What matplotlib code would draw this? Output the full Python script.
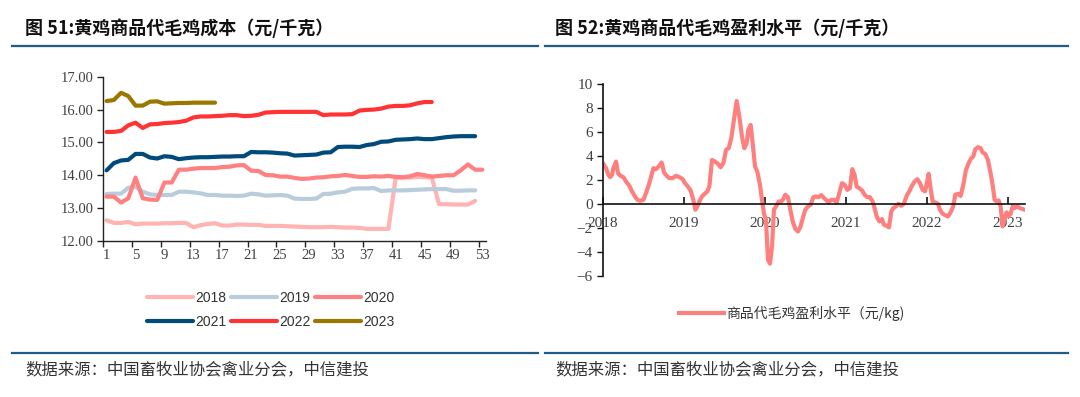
import matplotlib.pyplot as plt
import numpy as np
from matplotlib.lines import Line2D

plt.rcParams['font.family'] = ['Noto Sans CJK SC', 'DejaVu Sans']
plt.rcParams['axes.unicode_minus'] = True

# ---------------- data: chart 51 (weekly cost, yuan/kg) ----------------
cost_2018 = [12.63, 12.55, 12.55, 12.58, 12.51, 12.53, 12.53, 12.53, 12.54, 12.54,
             12.55, 12.55, 12.42, 12.48, 12.52, 12.54, 12.47, 12.47, 12.50, 12.50,
             12.49, 12.49, 12.46, 12.46, 12.46, 12.45, 12.44, 12.43, 12.42, 12.42,
             12.42, 12.43, 12.42, 12.41, 12.41, 12.40, 12.37, 12.37, 12.37, 12.37,
             13.92, 13.93, 13.93, 13.95, 13.94, 13.93, 13.12, 13.12, 13.11, 13.11,
             13.11, 13.22]
cost_2019 = [13.43, 13.44, 13.44, 13.62, 13.65, 13.50, 13.42, 13.40, 13.40, 13.40,
             13.50, 13.50, 13.48, 13.45, 13.40, 13.40, 13.38, 13.38, 13.37, 13.38,
             13.44, 13.42, 13.38, 13.39, 13.40, 13.38, 13.29, 13.28, 13.28, 13.29,
             13.43, 13.44, 13.48, 13.50, 13.59, 13.60, 13.60, 13.61, 13.52, 13.54,
             13.54, 13.54, 13.55, 13.56, 13.57, 13.58, 13.58, 13.58, 13.53, 13.53,
             13.54, 13.54]
cost_2020 = [13.35, 13.35, 13.17, 13.30, 13.93, 13.30, 13.26, 13.25, 13.78, 13.78,
             14.17, 14.17, 14.20, 14.22, 14.22, 14.22, 14.25, 14.26, 14.30, 14.31,
             14.14, 14.13, 14.01, 14.00, 13.96, 13.96, 13.92, 13.89, 13.90, 13.93,
             13.94, 13.97, 13.98, 14.01, 13.98, 13.95, 13.95, 13.97, 13.96, 13.98,
             13.95, 13.94, 13.97, 14.04, 14.00, 13.96, 13.98, 14.00, 14.00, 14.15,
             14.33, 14.17, 14.17]
cost_2021 = [14.15, 14.37, 14.45, 14.47, 14.65, 14.65, 14.54, 14.51, 14.58, 14.56,
             14.49, 14.52, 14.54, 14.55, 14.55, 14.56, 14.57, 14.57, 14.58, 14.58,
             14.71, 14.70, 14.70, 14.69, 14.67, 14.66, 14.60, 14.61, 14.62, 14.63,
             14.69, 14.70, 14.86, 14.87, 14.87, 14.86, 14.92, 14.95, 15.02, 15.03,
             15.08, 15.09, 15.10, 15.12, 15.10, 15.10, 15.13, 15.16, 15.18, 15.19,
             15.19, 15.19]
cost_2022 = [15.32, 15.32, 15.35, 15.52, 15.60, 15.44, 15.55, 15.56, 15.59, 15.60,
             15.62, 15.66, 15.76, 15.79, 15.79, 15.80, 15.81, 15.83, 15.83, 15.80,
             15.81, 15.84, 15.91, 15.92, 15.93, 15.93, 15.93, 15.93, 15.93, 15.93,
             15.83, 15.85, 15.85, 15.85, 15.86, 15.97, 15.99, 16.00, 16.03, 16.09,
             16.11, 16.11, 16.13, 16.19, 16.23, 16.23]
cost_2023 = [16.26, 16.29, 16.51, 16.41, 16.12, 16.12, 16.24, 16.25, 16.18, 16.19,
             16.20, 16.20, 16.21, 16.21, 16.21, 16.21]

years = ['2018', '2019', '2020', '2021', '2022', '2023']
cost_series = [cost_2018, cost_2019, cost_2020, cost_2021, cost_2022, cost_2023]
colors = ['#FFB3B3', '#B8CCDB', '#FF8080', '#004A7C', '#FF3333', '#9C7700']

week_labels = list(range(1, 54, 4))

# ---------------- data: chart 52 (profit, yuan/kg) ----------------
profit_t = [2018.008, 2018.041, 2018.070, 2018.091, 2018.115, 2018.132, 2018.165, 2018.189,
            2018.214, 2018.255, 2018.288, 2018.329, 2018.362, 2018.399, 2018.428, 2018.461,
            2018.502, 2018.535, 2018.576, 2018.626, 2018.658, 2018.691, 2018.728, 2018.757,
            2018.790, 2018.823, 2018.864, 2018.905, 2018.947, 2018.988, 2019.016, 2019.045,
            2019.086, 2019.119, 2019.144, 2019.169, 2019.193, 2019.226, 2019.259, 2019.292,
            2019.317, 2019.350, 2019.383, 2019.416, 2019.457, 2019.490, 2019.523, 2019.556,
            2019.588, 2019.621, 2019.654, 2019.687, 2019.720, 2019.749, 2019.778, 2019.798,
            2019.827, 2019.852, 2019.881, 2019.909, 2019.942, 2019.967, 2019.992, 2020.016,
            2020.041, 2020.066, 2020.091, 2020.115, 2020.140, 2020.173, 2020.206, 2020.230,
            2020.255, 2020.288, 2020.321, 2020.346, 2020.379, 2020.412, 2020.444, 2020.477,
            2020.502, 2020.535, 2020.568, 2020.601, 2020.634, 2020.667, 2020.700, 2020.733,
            2020.765, 2020.790, 2020.823, 2020.856, 2020.889, 2020.922, 2020.955, 2020.988,
            2021.021, 2021.053, 2021.082, 2021.111, 2021.136, 2021.169, 2021.202, 2021.235,
            2021.267, 2021.300, 2021.333, 2021.358, 2021.383, 2021.416, 2021.449, 2021.473,
            2021.506, 2021.535, 2021.564, 2021.588, 2021.621, 2021.654, 2021.687, 2021.720,
            2021.753, 2021.786, 2021.819, 2021.852, 2021.885, 2021.918, 2021.951, 2021.979,
            2022.000, 2022.025, 2022.049, 2022.074, 2022.107, 2022.140, 2022.165, 2022.198,
            2022.230, 2022.263, 2022.296, 2022.329, 2022.354, 2022.387, 2022.420, 2022.453,
            2022.486, 2022.519, 2022.551, 2022.576, 2022.601, 2022.634, 2022.667, 2022.691,
            2022.724, 2022.757, 2022.790, 2022.815, 2022.840, 2022.864, 2022.889, 2022.914,
            2022.938, 2022.963, 2022.988, 2023.012, 2023.037, 2023.062, 2023.086, 2023.119,
            2023.152, 2023.185, 2023.214]
profit_v = [3.36, 3.00, 2.44, 2.25, 2.44, 3.00, 3.55, 2.58,
            2.39, 2.25, 1.89, 1.53, 1.06, 0.64, 0.36, 0.28,
            0.36, 0.92, 1.75, 3.00, 2.92, 3.14, 3.47, 2.64,
            2.36, 2.17, 2.17, 2.36, 2.25, 2.08, 1.75, 1.53,
            1.14, 0.36, -0.47, -0.19, 0.22, 0.64, 0.86, 1.06,
            1.47, 3.69, 3.56, 3.42, 3.08, 3.42, 4.53, 4.67,
            5.50, 7.03, 8.61, 7.31, 5.64, 4.67, 5.08, 6.19,
            6.61, 5.08, 3.14, 2.72, 1.61, 0.36, -0.81, -1.31,
            -4.64, -4.97, -3.53, -0.47, -0.19, 0.22, 0.22, 0.42,
            0.78, 0.58, -0.61, -1.44, -2.08, -2.28, -1.86, -1.03,
            -0.47, -0.19, -0.06, 0.58, 0.64, 0.58, 0.75, 0.50,
            0.31, 0.14, 0.36, 0.36, 0.14, 0.92, 1.75, 1.61,
            1.19, 1.33, 2.92, 2.44, 1.47, 1.33, 1.14, 0.78,
            0.58, 0.58, 0.22, -0.33, -1.03, -1.44, -1.25, -1.72,
            -1.81, -1.94, -0.61, -0.33, -0.19, 0.03, -0.14, 0.03,
            0.69, 1.06, 1.53, 1.89, 2.08, 1.75, 1.19, 1.06,
            1.61, 2.53, 1.33, 0.22, 0.14, 0.03, -0.47, -0.81,
            -0.92, -1.03, -0.69, -0.19, 0.78, 0.86, 0.69, 1.61,
            2.86, 3.42, 3.83, 3.97, 4.58, 4.75, 4.67, 4.31,
            4.19, 3.69, 2.58, 1.61, 0.36, 0.22, 0.31, -0.19,
            -1.86, -1.31, -0.69, -1.03, -0.81, -0.19, -0.33, -0.19,
            -0.33, -0.42, -0.47]
year_ticks = [2018, 2019, 2020, 2021, 2022, 2023]

W, H = 1080, 397
fig = plt.figure(figsize=(W / 100, H / 100), dpi=100)

serif = 'Liberation Serif'
tick_col = '#404040'
rule_col = '#1F5C8A'


def fx(px):
    return px / W


def fy(py):
    return 1 - py / H


# titles, rules and sources
fig.text(fx(25), fy(28), '图 51:黄鸡商品代毛鸡成本（元/千克）', fontsize=13,
         weight='bold', va='center', ha='left', color='#111111')
fig.text(fx(555), fy(28), '图 52:黄鸡商品代毛鸡盈利水平（元/千克）', fontsize=13,
         weight='bold', va='center', ha='left', color='#111111')
for x0, x1 in [(12, 538), (545, 1068)]:
    for yy in (46, 352.5):
        fig.add_artist(Line2D([fx(x0), fx(x1)], [fy(yy), fy(yy)], color=rule_col, lw=1.6))
for x0 in (25, 555):
    fig.text(fx(x0), fy(370), '数据来源：中国畜牧业协会禽业分会，中信建投', fontsize=11.8,
             style='italic', va='center', ha='left', color='#333333')

# ---------------- left chart ----------------
ax1 = fig.add_axes([fx(103), fy(241), fx(486) - fx(103), fy(76.7) - fy(241)])
handles = []
for yr, vals, c in zip(years, cost_series, colors):
    wk = np.arange(1, len(vals) + 1)
    h, = ax1.plot(wk, vals, color=c, lw=3, solid_capstyle='round', label=yr)
    handles.append(h)

ax1.set_xlim(0.5, 53.5)
ax1.set_ylim(12, 17)
ax1.set_yticks(np.arange(12, 17.01, 1))
ax1.set_yticklabels([f'{v:.2f}' for v in np.arange(12, 17.01, 1)])
ax1.set_xticks([w - 0.5 for w in week_labels])
ax1.set_xticklabels([])
ax1.set_xticks(week_labels, minor=True)
ax1.set_xticklabels([str(w) for w in week_labels], minor=True)
ax1.tick_params(axis='x', which='major', length=4, width=1, color='#222222', direction='out')
ax1.tick_params(axis='x', which='minor', length=0, pad=6)
ax1.tick_params(axis='y', length=4, width=1, color='#222222', direction='out', pad=3)
for lab in ax1.get_xticklabels(minor=True) + ax1.get_yticklabels():
    lab.set_fontfamily(serif)
    lab.set_fontsize(10.5)
    lab.set_color(tick_col)
for s in ('top', 'right'):
    ax1.spines[s].set_visible(False)
for s in ('left', 'bottom'):
    ax1.spines[s].set_color('#222222')
    ax1.spines[s].set_linewidth(1)

order = [0, 3, 1, 4, 2, 5]
fig.legend([handles[i] for i in order], [years[i] for i in order], ncol=3,
           loc='center', bbox_to_anchor=(fx(271), fy(309.5)), frameon=False,
           prop={'family': 'Liberation Sans', 'size': 10}, handlelength=3.3,
           handletextpad=0.15, columnspacing=0.35, labelspacing=0.72,
           labelcolor='#333333')

# ---------------- right chart ----------------
ax2 = fig.add_axes([fx(602.7), fy(276), fx(1025) - fx(602.7), fy(84.3) - fy(276)])
line, = ax2.plot(profit_t, profit_v, color='#FF7F7F', lw=3, solid_joinstyle='round',
                 label='商品代毛鸡盈利水平（元/kg)')
ax2.set_xlim(2018, 2023.215)
ax2.set_ylim(-6, 10)
ax2.set_yticks(np.arange(-6, 10.1, 2))
ax2.set_xticks(year_ticks)
ax2.set_xticklabels([str(y) for y in year_ticks])
ax2.spines['bottom'].set_position(('data', 0))
for s in ('top', 'right'):
    ax2.spines[s].set_visible(False)
for s in ('left', 'bottom'):
    ax2.spines[s].set_color('#111111')
    ax2.spines[s].set_linewidth(1.2)
ax2.tick_params(axis='x', direction='in', length=5, width=1.2, color='#111111', pad=9)
ax2.tick_params(axis='y', direction='out', length=4, width=1, color='#111111', pad=3)
for lab in ax2.get_xticklabels() + ax2.get_yticklabels():
    lab.set_fontfamily(serif)
    lab.set_fontsize(11)
    lab.set_color(tick_col)

fig.legend([line], [line.get_label()], loc='center', bbox_to_anchor=(fx(792), fy(313)),
           frameon=False, prop={'size': 10}, handlelength=3.2, handletextpad=0.2,
           labelcolor='#333333')

fig.savefig('out.png', dpi=100, facecolor='white')
